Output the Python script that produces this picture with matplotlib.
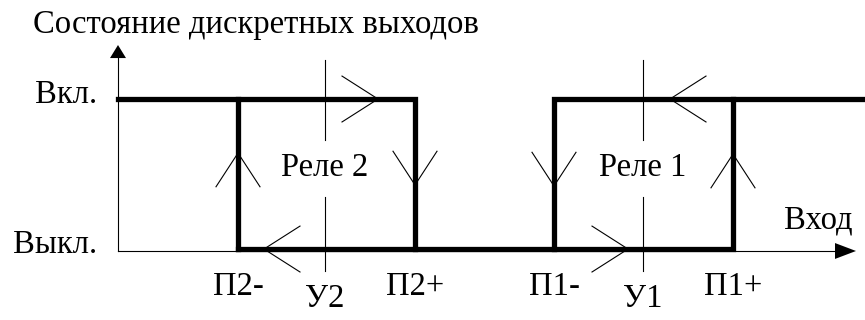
import matplotlib.pyplot as plt

plt.rcParams['font.family'] = ['Liberation Serif', 'DejaVu Serif']

# ось входа в условных единицах (0 - ось состояний)
x_end = 747
p2_minus, u2, p2_plus = 120, 207, 297
p1_minus, u1, p1_plus = 436, 525, 615
off, on = 0.0, 1.0

thresholds = [p2_minus, u2, p2_plus, p1_minus, u1, p1_plus]
threshold_labels = ['П2-', 'У2', 'П2+', 'П1-', 'У1', 'П1+']
state_levels = [off, on]
state_labels = ['Выкл.', 'Вкл.']
relay_labels = ['Реле 2', 'Реле 1']
setpoints = [u2, u1]

# стрелки обхода петель: x, y, направление
loop_arrows = [(260, on, 'right'), (p2_plus, 0.427, 'down'), (146, off, 'left'), (p2_minus, 0.64, 'up'),
               (552, on, 'left'), (p1_minus, 0.42, 'down'), (p1_plus, 0.633, 'up'), (510, off, 'right')]

THICK = 3.8
THIN = 0.8
FS = 23.5

fig = plt.figure(figsize=(8.65, 3.2), dpi=100)
ax = fig.add_axes([0, 0, 1, 1])
ax.set_xlim(-118, 747)
ax.set_ylim(-0.473, 1.66)
ax.axis('off')

# оси
axis_y = off - 0.013
ax.plot([0, 0], [axis_y, 1.28], color='black', lw=THIN)
ax.fill([-8, 8, 0], [1.273, 1.273, 1.36], color='black', lw=0)
ax.plot([0, 720], [axis_y, axis_y], color='black', lw=THIN)
ax.fill([717, 717, 738], [axis_y - 0.053, axis_y + 0.053, axis_y], color='black', lw=0)

# петли гистерезиса
style = dict(color='black', lw=THICK, solid_capstyle='projecting', solid_joinstyle='miter')
ax.plot([0, p2_plus, p2_plus, p1_plus, p1_plus], [on, on, off, off, on], **style)
ax.plot([p2_minus, p2_minus], [off, on], **style)
ax.plot([p2_minus, p2_plus], [off, off], **style)
ax.plot([p1_minus, p1_minus, x_end + 10], [off, on, on], **style)

# уставки
for u in setpoints:
    ax.plot([u, u], [0.727, 1.26], color='black', lw=THIN)
    ax.plot([u, u], [-0.147, 0.347], color='black', lw=THIN)

# шевроны направления
for x, y, d in loop_arrows:
    if d in ('left', 'right'):
        s = 1 if d == 'right' else -1
        xs = [x - s * 36, x, x - s * 36]
        ys = [y + 0.153, y, y - 0.153]
    else:
        s = 1 if d == 'up' else -1
        xs = [x - 22, x, x + 22]
        ys = [y - s * 0.225, y, y - s * 0.225]
    ax.plot(xs, ys, color='black', lw=THIN)

# подписи
ax.text(-85, 1.44, 'Состояние дискретных выходов', fontsize=FS, ha='left', va='baseline')
for lvl, lab in zip(state_levels, state_labels):
    ax.text(-21, lvl - 0.027, lab, fontsize=FS, ha='right', va='baseline')
ax.text(666, 0.14, 'Вход', fontsize=FS, ha='left', va='baseline')
for x, lab in zip(thresholds, threshold_labels):
    y = -0.387 if lab.startswith('У') else -0.307
    ax.text(x, y, lab, fontsize=FS, ha='center', va='baseline')
for x, lab in zip(setpoints, relay_labels):
    ax.text(x, 0.54, lab, fontsize=FS, ha='center', va='center')

fig.savefig('out.png', dpi=100)
